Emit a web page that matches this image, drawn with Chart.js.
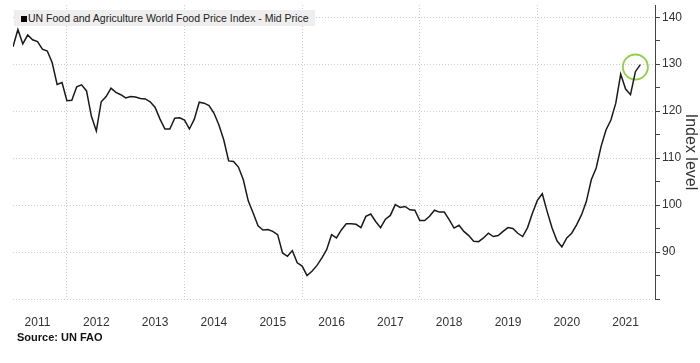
<!DOCTYPE html>
<html>
<head>
<meta charset="utf-8">
<script src="https://cdn.jsdelivr.net/npm/chart.js@4"></script>
<style>
  html, body { margin: 0; padding: 0; background: #fff; }
  #wrap { position: relative; width: 700px; height: 363px; }
  #legend {
    position: absolute; left: 14px; top: 10px; width: 301px; height: 16px;
    background: #eeeeee; font: 10.5px "Liberation Sans", Arial, sans-serif;
    color: #222; line-height: 16px; white-space: nowrap;
  }
  #legend span.box {
    display: inline-block; width: 6px; height: 6px; background: #000;
    margin: 0 1px 0 7px; vertical-align: 0px;
  }
  #source {
    position: absolute; left: 17px; top: 331px;
    font: bold 11px "Liberation Sans", Arial, sans-serif; color: #111;
  }
</style>
</head>
<body>
<div id="wrap">
  <canvas id="chart" width="700" height="363"></canvas>
  <div id="legend"><span class="box"></span>UN Food and Agriculture World Food Price Index - Mid Price</div>
  <div id="source">Source: UN FAO</div>
</div>
<script>
// monthly index values, Jan 2011 .. Sep 2021
var values2011 = [133.7, 137.4, 134.3, 136.2, 135.2, 134.8, 133.2, 132.8, 130.3, 125.7, 126.1, 122.2];
var values2012 = [122.3, 125.2, 125.6, 124.3, 118.9, 115.8, 122.0, 123.1, 124.9, 124.0, 123.5, 122.8];
var values2013 = [123.1, 123.0, 122.7, 122.6, 122.0, 120.8, 118.3, 116.2, 116.2, 118.5, 118.6, 118.1];
var values2014 = [116.2, 118.3, 121.9, 121.7, 121.2, 119.6, 117.1, 113.9, 109.4, 109.3, 108.1, 105.4];
var values2015 = [100.9, 98.3, 95.6, 94.7, 94.8, 94.4, 93.7, 89.8, 89.1, 90.3, 87.7, 87.0];
var values2016 = [85.0, 85.9, 87.1, 88.7, 90.5, 93.7, 93.0, 94.7, 96.0, 96.0, 95.9, 95.2];
var values2017 = [97.6, 98.1, 96.5, 95.2, 97.0, 97.8, 100.1, 99.5, 99.7, 99.0, 98.9, 96.7];
var values2018 = [96.7, 97.6, 98.9, 98.5, 98.5, 96.9, 95.1, 95.7, 94.4, 93.5, 92.3, 92.2];
var values2019 = [93.0, 94.0, 93.3, 93.5, 94.4, 95.2, 95.0, 94.0, 93.3, 95.2, 98.3, 101.0];
var values2020 = [102.4, 98.6, 95.1, 92.4, 91.1, 93.0, 94.0, 95.8, 97.9, 100.8, 105.4, 107.9];
var values2021 = [112.5, 116.0, 118.1, 121.7, 127.9, 124.7, 123.5, 128.4, 129.9];

var yearLabels = ['2011', '2012', '2013', '2014', '2015', '2016', '2017', '2018', '2019', '2020', '2021'];
var yTicks = [80, 85, 90, 95, 100, 105, 110, 115, 120, 125, 130, 135, 140];

var allValues = [].concat(values2011, values2012, values2013, values2014, values2015,
  values2016, values2017, values2018, values2019, values2020, values2021);

// x = months since 1 Jan 2011, points sit at month end
var points = allValues.map(function (v, i) { return { x: i + 1, y: v }; });
var last = points[points.length - 1];
var highlight = [{ x: last.x - 1, y: last.y - 0.5 }];

var gridCol = '#cccccc';
var textCol = '#333333';

new Chart(document.getElementById('chart'), {
  type: 'line',
  data: {
    datasets: [{
      data: points,
      borderColor: '#1a1a1a',
      borderWidth: 1.5,
      pointRadius: 0,
      tension: 0
    }, {
      data: highlight,
      showLine: false,
      pointRadius: 12.5,
      pointBorderWidth: 1.8,
      pointBorderColor: '#92cf45',
      pointBackgroundColor: 'rgba(0,0,0,0)'
    }]
  },
  options: {
    responsive: false,
    animation: false,
    events: [],
    // the big highlight ring would otherwise push the plot inwards
    layout: { autoPadding: false, padding: { left: 13, top: 5, right: 0, bottom: 31 } },
    plugins: { legend: { display: false }, tooltip: { enabled: false } },
    scales: {
      x: {
        type: 'linear',
        min: 1,
        max: 132,
        afterBuildTicks: function (scale) {
          var t = [];
          for (var m = 6; m <= 126; m += 6) t.push({ value: m });
          scale.ticks = t;
        },
        afterFit: function (scale) { scale.height = 33; },
        border: { display: false, dash: [1, 2] },
        grid: {
          drawTicks: false,
          color: function (ctx) {
            var v = ctx.tick ? ctx.tick.value : 0;
            return (v % 24 === 12) ? gridCol : 'rgba(0,0,0,0)';
          }
        },
        ticks: {
          autoSkip: false,
          maxRotation: 0,
          padding: 16,
          color: textCol,
          font: { family: 'Liberation Sans', size: 12 },
          callback: function (v) {
            return ((v - 6) % 12 === 0) ? yearLabels[(v - 6) / 12] : '';
          }
        }
      },
      y: {
        position: 'right',
        min: 80,
        max: 142.6,
        afterBuildTicks: function (scale) {
          scale.ticks = yTicks.map(function (v) { return { value: v }; });
        },
        afterFit: function (scale) {
          scale.width = 45;
          scale.paddingTop = 0;
          scale.paddingBottom = 0;
        },
        border: { display: true, color: '#444', width: 1, dash: [1, 2] },
        grid: {
          tickLength: 5,
          tickColor: '#444',
          tickBorderDash: [],
          color: function (ctx) {
            var v = ctx.tick ? ctx.tick.value : 0;
            return (v % 10 === 0) ? gridCol : 'rgba(0,0,0,0)';
          }
        },
        ticks: {
          padding: 2,
          color: textCol,
          font: { family: 'Liberation Sans', size: 12 },
          callback: function (v) { return (v % 10 === 0 && v >= 90) ? String(v) : ''; }
        },
        title: {
          display: true,
          text: 'Index level',
          color: textCol,
          padding: { top: 0, bottom: 0 },
          font: { family: 'Liberation Sans', size: 16 }
        }
      }
    }
  }
});
</script>
</body>
</html>
